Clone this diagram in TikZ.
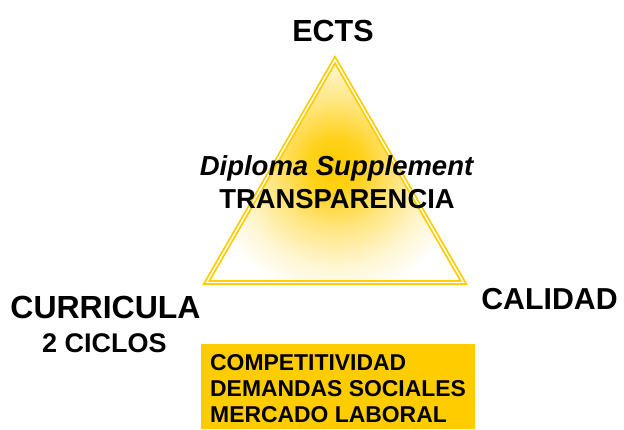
\documentclass[tikz,border=0pt]{standalone}
\usepackage{fontspec}
\setmainfont{Liberation Sans}
\definecolor{gold}{HTML}{FFCC00}
\pgfdeclareradialshading{trishade}{\pgfpoint{0bp}{0bp}}{color(0bp)=(gold); color(5bp)=(gold!90!white); color(12bp)=(gold!50!white); color(19bp)=(gold!18!white); color(25bp)=(white); color(50bp)=(white)}
\begin{document}
\begin{tikzpicture}[x=1pt,y=-1pt,
  lbl/.style={inner sep=0pt, font=\bfseries},
  boxtxt/.style={inner sep=0pt, anchor=base west, font=\fontsize{22.9}{26}\selectfont\bfseries}]
\useasboundingbox (0,0) rectangle (624,429);
\fill[white] (0,0) rectangle (624,429);
% triangle
\coordinate (A) at (335,60);
\coordinate (B) at (206.5,282.5);
\coordinate (C) at (463.5,282.5);
\begin{scope}
  \clip (A) -- (B) -- (C) -- cycle;
  \shade[shading=trishade] (335,165) circle (132);
\end{scope}
\draw[gold, line width=1.8pt, double=white, double distance=1.4pt, line join=miter] (A) -- (B) -- (C) -- cycle;
% labels
\node[lbl, anchor=base, font=\fontsize{30.5}{33}\selectfont\bfseries] (ects) at (333,41) {ECTS};
\node[lbl, anchor=base, font=\fontsize{32}{35}\selectfont\bfseries] (curr) at (105.5,318) {CURRICULA};
\node[lbl, anchor=base, font=\fontsize{27}{30}\selectfont\bfseries] (ciclos) at (104.5,352) {2 CICLOS};
\node[lbl, anchor=base, font=\fontsize{30.3}{33}\selectfont\bfseries] (cal) at (549.5,309) {CALIDAD};
\node[lbl, anchor=base, font=\fontsize{27.5}{30}\selectfont\bfseries\itshape] (dip) at (336.5,175) {Diploma Supplement};
\node[lbl, anchor=base, font=\fontsize{27.4}{30}\selectfont\bfseries] (trans) at (337,208) {TRANSPARENCIA};
% box
\fill[gold] (201,344) rectangle (475,429);
\node[boxtxt] (t1) at (210,370) {COMPETITIVIDAD};
\node[boxtxt] (t2) at (210,396) {DEMANDAS SOCIALES};
\node[boxtxt] (t3) at (210,422) {MERCADO LABORAL};
\end{tikzpicture}
\end{document}
